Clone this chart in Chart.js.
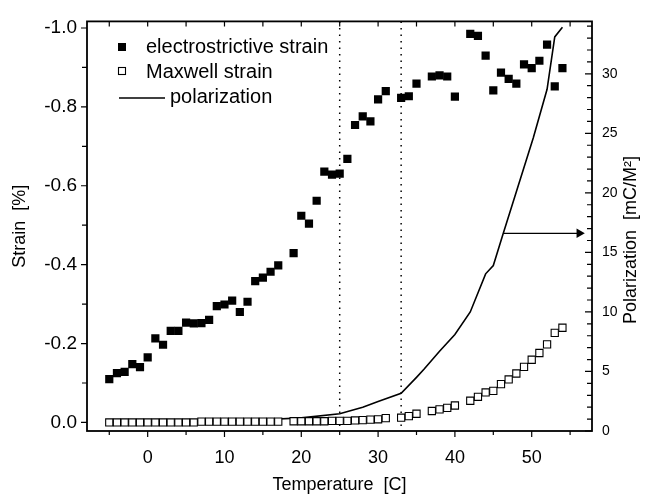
<!DOCTYPE html>
<html>
<head>
<meta charset="utf-8">
<title>Strain and polarization vs temperature</title>
<script src="https://cdn.jsdelivr.net/npm/chart.js@4.4.1/dist/chart.umd.min.js"></script>
<style>
  body { margin: 0; background: #fff; }
  #wrap { width: 649px; height: 497px; }
</style>
</head>
<body>
<div id="wrap"><canvas id="strainChart"></canvas></div>
<script>
// temperature [C] for the strain points (18, 32, 36, 41 not measured)
const tempStrain = [-5, -4, -3, -2, -1, 0, 1, 2, 3, 4, 5, 6, 7, 8, 9, 10, 11, 12, 13, 14, 15, 16, 17,
  19, 20, 21, 22, 23, 24, 25, 26, 27, 28, 29, 30, 31, 33, 34, 35, 37, 38, 39, 40,
  42, 43, 44, 45, 46, 47, 48, 49, 50, 51, 52, 53, 54];

// electrostrictive strain [%]
const electroStrain = [-0.11, -0.125, -0.128, -0.148, -0.14, -0.165, -0.213, -0.197, -0.232, -0.232,
  -0.253, -0.251, -0.252, -0.26, -0.295, -0.299, -0.309, -0.28, -0.306, -0.358, -0.367, -0.382, -0.398,
  -0.429, -0.524, -0.504, -0.562, -0.636, -0.628, -0.631, -0.668, -0.754, -0.776, -0.763, -0.819, -0.84,
  -0.823, -0.827, -0.859, -0.877, -0.88, -0.877, -0.826,
  -0.985, -0.98, -0.93, -0.842, -0.887, -0.871, -0.859, -0.908, -0.898, -0.917, -0.958, -0.852, -0.898];

// Maxwell strain [%]
const maxwellStrain = [0, 0, 0, 0, 0, 0, 0, 0, 0, 0, 0, 0,
  -0.002, -0.002, -0.002, -0.002, -0.002, -0.002, -0.002, -0.002, -0.002, -0.002, -0.002,
  -0.003, -0.003, -0.003, -0.003, -0.003, -0.004, -0.004, -0.004, -0.005, -0.006, -0.007, -0.008, -0.011,
  -0.012, -0.016, -0.022, -0.029, -0.033, -0.037, -0.043,
  -0.055, -0.065, -0.076, -0.08, -0.097, -0.109, -0.124, -0.141, -0.159, -0.176, -0.198, -0.227, -0.24];

// polarization curve [mC/M^2]
const tempPol = [-5, 0, 5, 10, 15, 20, 25, 28, 30, 33, 35, 36, 38, 40, 42, 44, 45, 46.3, 48, 50.2, 52, 53, 54];
const polarization = [0.75, 0.77, 0.8, 0.85, 0.95, 1.1, 1.45, 2.0, 2.47, 3.16, 4.5, 5.2, 6.7, 8.1, 10.0,
  13.2, 13.9, 16.6, 20.1, 24.6, 28.7, 33.1, 33.9];

// dotted markers and the arrow pointing to the right axis
const dottedTemps = [25, 33];
const arrowTemps = [46.3, 56.2];
const arrowPol = [16.6, 16.6];

// axis ranges
const T_MIN = -7.9, T_MAX = 57.85;
const S_MIN = -1.0167, S_MAX = 0.0217;
const P_MIN = 0, P_MAX = 34.4;

const FONT = "'Liberation Sans', Arial, sans-serif";
Chart.defaults.font.family = FONT;
Chart.defaults.color = '#000';

const pts = (xs, ys) => xs.map((x, i) => ({x: x, y: ys[i]}));

const datasets = [
  {
    label: 'electrostrictive strain',
    data: pts(tempStrain, electroStrain),
    yAxisID: 'y',
    pointStyle: 'rect', pointRadius: 5.8,
    backgroundColor: '#000', borderColor: '#000', borderWidth: 0,
    showLine: false
  },
  {
    label: 'Maxwell strain',
    data: pts(tempStrain, maxwellStrain),
    yAxisID: 'y',
    pointStyle: 'rect', pointRadius: 5.1,
    backgroundColor: '#fff', borderColor: '#000', borderWidth: 1.1,
    showLine: false
  },
  {
    label: 'polarization',
    data: pts(tempPol, polarization),
    yAxisID: 'y2',
    showLine: true, borderColor: '#000', borderWidth: 1.6,
    pointRadius: 0, tension: 0
  }
];

dottedTemps.forEach(t => {
  datasets.push({
    label: 'dotted ' + t,
    data: [{x: t, y: S_MIN}, {x: t, y: S_MAX}],
    yAxisID: 'y',
    showLine: true, borderColor: '#000', borderWidth: 1.5,
    borderDash: [1.5, 5], pointRadius: 0
  });
});

datasets.push({
  label: 'arrow',
  data: pts(arrowTemps, arrowPol),
  yAxisID: 'y2',
  showLine: true, borderColor: '#000', borderWidth: 1.4,
  pointStyle: 'triangle', pointRadius: [0, 5.5], rotation: [0, 90],
  backgroundColor: '#000', pointBorderWidth: 0
});

// box, tick marks, legend and the right axis title
const decorations = {
  id: 'decorations',
  afterDraw(chart) {
    const {ctx, chartArea: a, scales} = chart;
    ctx.save();
    ctx.strokeStyle = '#000';
    ctx.lineWidth = 1.2;
    ctx.beginPath();
    scales.x.ticks.forEach(t => {
      const px = scales.x.getPixelForValue(t.value);
      const len = (Math.round(t.value) % 10 === 0) ? 6 : 4;
      ctx.moveTo(px, a.bottom); ctx.lineTo(px, a.bottom + len);
      ctx.moveTo(px, a.top); ctx.lineTo(px, a.top + 5);
    });
    scales.y.ticks.forEach(t => {
      const py = scales.y.getPixelForValue(t.value);
      const len = (Math.round(t.value * 10) % 2 === 0) ? 6 : 5;
      ctx.moveTo(a.left, py); ctx.lineTo(a.left - len, py);
    });
    scales.y2.ticks.forEach(t => {
      const py = scales.y2.getPixelForValue(t.value);
      const len = (Math.round(t.value) % 5 === 0) ? 7 : 5;
      ctx.moveTo(a.right, py); ctx.lineTo(a.right - len, py);
    });
    ctx.stroke();

    ctx.lineWidth = 1.8;
    ctx.strokeRect(a.left, a.top, a.right - a.left, a.bottom - a.top);

    // legend
    const lx = 122;
    ctx.fillStyle = '#000';
    ctx.fillRect(lx - 4, 47 - 4, 8, 8);
    ctx.fillStyle = '#fff';
    ctx.lineWidth = 1.1;
    ctx.fillRect(lx - 3.5, 71 - 3.5, 7, 7);
    ctx.strokeRect(lx - 3.5, 71 - 3.5, 7, 7);
    ctx.lineWidth = 1.6;
    ctx.beginPath();
    ctx.moveTo(119, 98); ctx.lineTo(165, 98);
    ctx.stroke();
    ctx.fillStyle = '#000';
    ctx.font = '20px ' + FONT;
    ctx.textBaseline = 'middle';
    ctx.textAlign = 'left';
    ctx.fillText(datasets[0].label, 146, 47);
    ctx.fillText(datasets[1].label, 146, 72);
    ctx.fillText(datasets[2].label, 170, 97);

    // right axis title, reading bottom to top
    ctx.font = '18px ' + FONT;
    ctx.translate(631, 240);
    ctx.rotate(-Math.PI / 2);
    ctx.textAlign = 'center';
    ctx.fillText('Polarization  [mC/M\u00B2]', 0, 0);
    ctx.restore();
  }
};

const config = {
  type: 'scatter',
  data: {datasets: datasets},
  options: {
    responsive: true,
    maintainAspectRatio: false,
    animation: false,
    layout: {padding: {top: 14, left: 0, right: 0, bottom: 0}},
    plugins: {legend: {display: false}, tooltip: {enabled: false}},
    scales: {
      x: {
        type: 'linear', position: 'bottom', min: T_MIN, max: T_MAX,
        grid: {display: false, drawTicks: false}, border: {display: false},
        ticks: {
          stepSize: 5, includeBounds: false, autoSkip: false, maxRotation: 0, padding: 16,
          font: {size: 18},
          callback: v => (Math.round(v) % 10 === 0 ? String(Math.round(v)) : '')
        },
        title: {display: true, text: 'Temperature  [C]', font: {size: 18}, padding: {top: 0, bottom: 1}},
        afterFit: s => { s.height = 66; }
      },
      y: {
        type: 'linear', position: 'left', reverse: true, min: S_MIN, max: S_MAX,
        grid: {display: false, drawTicks: false}, border: {display: false},
        ticks: {
          stepSize: 0.1, includeBounds: false, autoSkip: false, padding: 10,
          font: {size: 19},
          callback: v => {
            const k = Math.round(v * 10);
            return k % 2 === 0 ? (k / 10).toFixed(1) : '';
          }
        },
        title: {display: true, text: 'Strain  [%]', font: {size: 18}, padding: {top: 9, bottom: 0}},
        afterFit: s => { s.width = 87; }
      },
      y2: {
        type: 'linear', position: 'right', min: P_MIN, max: P_MAX,
        grid: {display: false, drawTicks: false}, border: {display: false},
        ticks: {
          stepSize: 1, includeBounds: false, autoSkip: false, padding: 10,
          font: {size: 14},
          callback: v => (Math.round(v) % 5 === 0 ? String(Math.round(v)) : '')
        },
        afterFit: s => { s.width = 57; }
      }
    }
  },
  plugins: [decorations]
};

const ctx = document.getElementById('strainChart').getContext('2d');
const strainChart = new Chart(ctx, config);
</script>
</body>
</html>
